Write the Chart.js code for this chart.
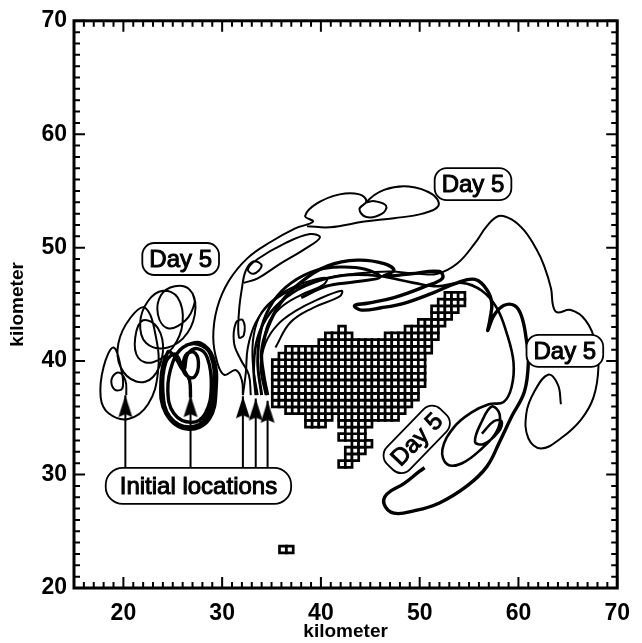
<!DOCTYPE html>
<html>
<head>
<meta charset="utf-8">
<script src="https://cdn.jsdelivr.net/npm/chart.js@4.4.1/dist/chart.umd.min.js"></script>
<style>
html,body{margin:0;padding:0;background:#fff}
</style>
</head>
<body>
<canvas id="c" width="642" height="643"></canvas>
<script>
// axes (km)
const xTicks = [20, 30, 40, 50, 60, 70];
const yTicks = [20, 30, 40, 50, 60, 70];

// release points (arrows)
const arrowX = [20.2, 26.8, 32.1, 33.4, 34.6];
const arrowTipY = [37.0, 37.0, 36.9, 36.7, 36.5];
const arrowBaseY = 30.6;

// gridded area: rows [row, firstCol, lastCol]
const cellX0 = 35.42, cellDX = 0.672, cellY0 = 30.93, cellDY = 0.593;
const cellRows = [
  [0,10,11],[1,11,12],[2,11,13],[3,12,14],[4,10,13],[5,11,13],
  [6,5,7],[6,10,14],[7,5,8],[7,10,18],[8,2,19],[9,0,20],[10,0,21],
  [11,0,21],[12,0,22],[13,0,22],[14,0,22],[15,0,22],[16,1,22],
  [17,2,23],[18,7,23],[19,8,11],[19,17,24],[20,10,10],[20,20,24],
  [21,22,25],[22,24,26],[23,24,27],[24,25,28],[25,26,28]
];
const markerCells = [[36.15, 23.4], [36.85, 23.4]];

// trajectories (km)
const trajA = [[20.3,37.0],[20.2,38.3],[19.5,39.0],[18.8,38.4],[19.1,37.5],[19.9,37.6],[19.8,39.2],
  [19.0,41.2],[18.0,39.5],[17.7,36.8],[18.5,35.4],[20.5,34.9],[22.5,36.2],[23.5,39.0],[23.3,42.1],
  [22.2,44.7],[20.7,43.8],[19.5,41.6],[19.7,39.5],[21.3,38.2],[23.0,38.6],[24.0,40.8],[23.5,42.9],
  [22.0,43.6],[21.2,42.1],[21.5,40.3],[23.0,39.9],[25.0,41.2],[26.0,43.4],[25.5,45.6],[24.0,46.2],
  [22.5,45.3],[21.7,43.4],[22.3,41.6],[24.5,41.2],[26.5,42.5],[27.3,44.7],[26.7,46.3],[25.2,46.6],
  [23.8,45.8],[23.5,44.1],[24.5,42.9],[26.3,43.6],[27.2,45.1],[27.0,46.0]];
const trajB = [[26.8,36.8],[26.7,38.3],[26.1,39.4],[26.3,40.5],[27.1,40.8],[27.6,39.9],[27.2,38.6],
  [26.3,38.8],[25.3,40.6],[24.3,39.9],[24.0,37.3],[24.7,35.1],[26.7,34.2],[28.5,35.1],[29.2,37.7],
  [28.8,40.6],[27.5,41.5],[26.0,41.2],[25.0,39.9],[24.5,37.5],[25.1,35.4],[26.9,34.6],[28.3,35.4],
  [28.9,37.7],[28.5,40.3],[27.5,41.1],[26.5,40.6],[26.1,39.2],[25.2,40.4],[24.5,40.8],[23.8,38.2],
  [24.3,35.4],[26.5,34.0],[28.7,34.9],[29.4,37.7],[29.1,40.3],[27.8,41.6],[26.3,41.4]];
const trajC1 = [[32.1,37.0],[32.0,38.3],[31.4,39.2],[30.2,38.8],[29.5,39.9],[29.1,42.1],[29.5,44.7],
  [30.7,47.1],[32.6,49.1],[34.9,50.5],[37.4,51.7],[39.2,52.3],[38.4,52.8],[39.6,53.9],[41.9,54.7],
  [43.9,54.7],[44.6,54.1],[43.9,53.4],[44.6,52.7],[46.2,53.0],[46.6,53.7],[45.4,54.1],[44.6,54.0],
  [46.4,55.1],[48.9,55.4],[51.3,54.7],[51.9,53.7],[50.3,53.0],[47.4,52.6],[44.4,52.3],[40.9,51.8],[38.6,51.9]];
const trajC2 = [[32.1,37.0],[32.4,39.0],[32.6,41.2],[33.4,43.4],[34.9,45.1],[37.4,46.4],[40.4,47.3],
  [43.4,47.7],[46.9,47.9],[49.9,47.7],[51.8,47.7],[53.8,48.6],[55.6,50.4],[56.8,51.9],[58.0,52.8],
  [59.3,52.5],[60.6,51.5],[61.8,49.9],[62.6,48.4],[63.3,46.4],[63.5,44.9],[63.9,44.3],[65.3,44.5],
  [66.8,43.6],[67.8,41.6],[68.1,39.5],[67.6,36.8],[66.3,34.8],[64.3,33.2],[62.3,32.3],[61.0,33.2],
  [60.8,35.4],[61.6,37.3],[63.0,38.8],[64.0,37.9],[64.3,36.2]];
const trajC3 = [[34.6,37.0],[34.2,38.8],[34.0,40.8],[34.6,42.9],[35.9,45.1],[37.9,46.9],[40.7,48.4],
  [43.7,48.9],[46.4,48.6],[47.4,48.0],[46.4,47.5],[49.1,47.7],[52.0,47.9],[52.3,47.3],[50.6,46.6],
  [47.4,45.6],[44.7,45.1],[43.4,44.9],[44.1,44.5],[46.1,44.7],[48.4,45.1],[51.3,46.0],[53.8,46.9],
  [55.6,47.2],[56.8,46.3],[57.3,45.1],[57.1,43.6],[56.9,42.7],[57.5,44.0],[58.5,44.9],[59.6,44.9],
  [60.3,44.0],[60.8,41.9],[61.0,39.9],[60.6,37.3],[59.3,35.1],[58.1,32.9],[56.8,30.7],[54.8,29.0],
  [52.0,27.5],[49.4,26.8],[47.4,26.6],[46.4,27.4],[46.7,28.3],[48.4,29.2],[50.0,30.3],[50.5,30.6]];
const trajC4 = [[32.9,37.0],[32.7,38.8],[31.9,40.1],[31.2,41.6],[31.4,43.4],[32.1,43.6],[32.2,42.3],
  [31.7,42.1],[31.7,44.3],[32.0,46.4],[32.4,48.0],[33.2,48.8],[34.0,48.4],[33.2,47.7],[32.6,48.1],
  [33.6,49.0],[36.4,50.4],[38.9,51.2],[39.9,50.9],[38.4,49.9],[35.9,48.6],[33.6,47.3],[32.2,46.9]];
const trajC5 = [[33.4,37.0],[33.2,39.5],[33.6,42.1],[34.9,44.3],[37.1,46.0],[39.9,47.1],[42.9,47.6],
  [45.9,47.5],[49.4,46.9],[51.8,46.6],[54.3,46.9],[56.3,46.2],[57.8,44.7],[58.8,42.5],[59.5,39.9],
  [59.3,37.7],[58.5,36.4],[57.0,36.2],[55.3,35.5],[53.5,34.2],[52.3,32.2],[52.8,30.9],[54.3,31.0],
  [56.3,32.3],[57.8,33.8],[58.1,35.3],[57.3,36.0],[56.3,34.7],[55.6,32.9],[56.5,32.7],[58.0,33.8],
  [58.3,34.7],[57.5,34.7],[56.3,33.6]];
const trajC6 = [[33.6,37.0],[33.1,39.9],[33.2,42.3],[34.0,44.3],[35.6,45.7],[37.4,46.6],[39.4,47.2],
  [40.6,47.3],[40.2,46.7],[37.9,45.8],[35.9,44.7],[34.6,43.2],[34.2,41.2]];
const trajC7 = [[34.4,37.0],[33.9,39.5],[34.4,41.6],[35.6,43.2],[37.4,44.4],[39.6,45.4],[42.1,46.2],
  [41.9,45.7],[39.2,44.7],[36.9,43.4],[35.4,41.2]];
const trajC8 = [[34.0,37.0],[33.6,40.0],[34.0,43.0],[35.2,45.3],[37.0,46.9],[39.5,48.0],[42.0,48.3],
  [44.5,48.1],[46.0,47.4],[43.5,47.0],[40.5,46.6],[38.0,45.6]];

// text notes
const noteText = ['Day 5', 'Day 5', 'Day 5', 'Day 5', 'Initial locations'];
const noteX = [25.8, 55.4, 64.7, 49.7, 27.6];
const noteY = [49.0, 55.6, 40.9, 33.1, 29.0];
const noteAngle = [0, 0, 0, -46, 0];

function traj(points, width) {
  return {
    data: points.map(p => ({x: p[0], y: p[1]})),
    showLine: true, borderColor: '#000', borderWidth: width,
    pointRadius: 0, tension: 0.4, fill: false
  };
}

function arrowHead() {
  const c = document.createElement('canvas');
  c.width = 16; c.height = 46;
  const g = c.getContext('2d');
  g.fillStyle = '#000';
  g.beginPath();
  g.moveTo(8, 23); g.lineTo(15, 45); g.lineTo(8, 42); g.lineTo(1, 45);
  g.closePath(); g.fill();
  return c;
}
const head = arrowHead();

const cells = [];
cellRows.forEach(([j, i0, i1]) => {
  for (let i = i0; i <= i1; i++) cells.push({x: cellX0 + i * cellDX, y: cellY0 + j * cellDY});
});

const datasets = [
  { data: cells, pointStyle: 'rect', pointRadius: 4.8, backgroundColor: '#fff', borderColor: '#000', borderWidth: 2.7 },
  { data: markerCells.map(p => ({x: p[0], y: p[1]})), pointStyle: 'rect', pointRadius: 4.8, backgroundColor: '#fff', borderColor: '#000', borderWidth: 2.7 }
];
arrowX.forEach((ax, i) => {
  datasets.push({
    data: [{x: ax, y: arrowBaseY}, {x: ax, y: arrowTipY[i]}],
    showLine: true, borderColor: '#000', borderWidth: 2,
    pointStyle: head, pointRadius: [0, 5]
  });
});
datasets.push(traj(trajA, 2), traj(trajB, 3.4), traj(trajC1, 2), traj(trajC2, 2),
  traj(trajC3, 3.4), traj(trajC4, 2), traj(trajC5, 2.6), traj(trajC6, 2), traj(trajC7, 2),
  traj(trajC8, 3));

const noteBoxes = {
  id: 'noteBoxes',
  afterDatasetsDraw(chart) {
    const {ctx, scales: {x, y}} = chart;
    ctx.save();
    noteText.forEach((t, i) => {
      const px = x.getPixelForValue(noteX[i]), py = y.getPixelForValue(noteY[i]);
      const big = t.length > 6;
      ctx.font = '24px "Liberation Sans", Arial, sans-serif';
      const w = ctx.measureText(t).width + (big ? 28 : 14);
      const h = big ? 36 : 32;
      ctx.save();
      ctx.translate(px, py);
      ctx.rotate(noteAngle[i] * Math.PI / 180);
      ctx.beginPath();
      ctx.roundRect(-w / 2, -h / 2, w, h, big ? 17 : 12);
      ctx.fillStyle = '#fff'; ctx.fill();
      ctx.lineWidth = 1.8; ctx.strokeStyle = '#000'; ctx.stroke();
      ctx.fillStyle = '#000';
      ctx.textAlign = 'center'; ctx.textBaseline = 'middle';
      ctx.lineWidth = 1;
      ctx.fillText(t, 0, 1);
      ctx.strokeText(t, 0, 1);
      ctx.restore();
    });
    ctx.restore();
  }
};

const frameTicks = {
  id: 'frameTicks',
  afterDatasetsDraw(chart) {
    const {ctx, chartArea: a, scales: {x, y}} = chart;
    ctx.save();
    ctx.strokeStyle = '#000';
    ctx.lineWidth = 2;
    ctx.beginPath();
    for (let v = Math.ceil(x.min); v <= x.max; v++) {
      const p = x.getPixelForValue(v), len = v % 10 === 0 ? 11 : 6;
      ctx.moveTo(p, a.bottom); ctx.lineTo(p, a.bottom - len);
      ctx.moveTo(p, a.top); ctx.lineTo(p, a.top + len);
    }
    for (let v = Math.ceil(y.min); v <= y.max; v++) {
      const p = y.getPixelForValue(v), len = v % 10 === 0 ? 11 : 6;
      ctx.moveTo(a.left, p); ctx.lineTo(a.left + len, p);
      ctx.moveTo(a.right, p); ctx.lineTo(a.right - len, p);
    }
    ctx.stroke();
    ctx.lineWidth = 3;
    ctx.strokeRect(a.left, a.top, a.right - a.left, a.bottom - a.top);
    ctx.restore();
  }
};

const tickFont = {family: '"Liberation Sans", Arial, sans-serif', size: 23, weight: 'bold'};
const titleFont = {family: '"Liberation Sans", Arial, sans-serif', size: 19, weight: 'bold'};

new Chart(document.getElementById('c'), {
  type: 'scatter',
  data: { datasets },
  options: {
    responsive: false,
    animation: false,
    layout: { padding: { top: 15, right: 15, left: 0, bottom: 0 } },
    plugins: { legend: { display: false }, tooltip: { enabled: false } },
    scales: {
      x: {
        type: 'linear', min: 15, max: 70,
        afterBuildTicks: s => { s.ticks = xTicks.map(v => ({value: v})); },
        afterFit: s => { s.height = 55; },
        grid: { display: false, drawTicks: false },
        border: { display: false },
        ticks: { color: '#000', font: tickFont, padding: 12, maxRotation: 0 },
        title: { display: true, text: 'kilometer', color: '#000', font: titleFont, padding: { top: 0, bottom: 0 } }
      },
      y: {
        type: 'linear', min: 20, max: 70,
        afterBuildTicks: s => { s.ticks = yTicks.map(v => ({value: v})); },
        afterFit: s => { s.width = 74; },
        grid: { display: false, drawTicks: false },
        border: { display: false },
        ticks: { color: '#000', font: tickFont, padding: 7 },
        title: { display: true, text: 'kilometer', color: '#000', font: titleFont, padding: { top: 6, bottom: 0 } }
      }
    }
  },
  plugins: [noteBoxes, frameTicks]
});
</script>
</body>
</html>
